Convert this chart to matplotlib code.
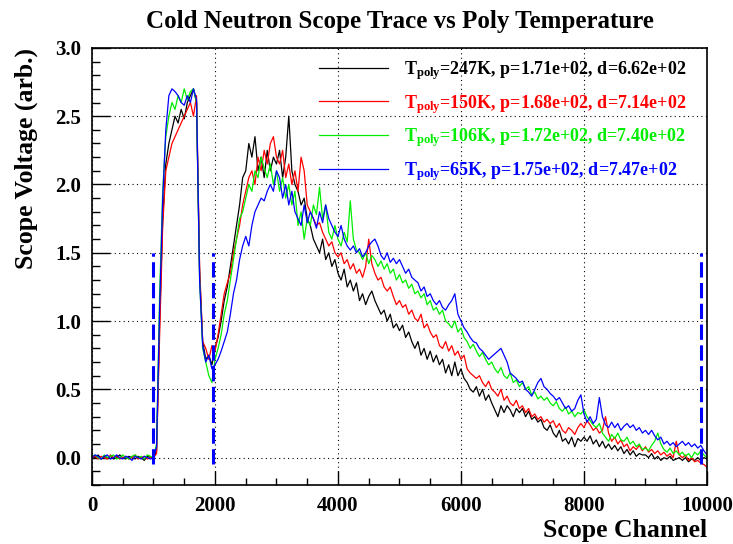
import numpy as np
import matplotlib
matplotlib.use("Agg")
import matplotlib.pyplot as plt
from matplotlib.ticker import MultipleLocator

# Scope traces, one value every 50 channels (0..10000)
step = 50
trace_247K = [
    0.01, 0.0, 0.02, -0.01, 0.01, 0.0, 0.01, -0.01, 0.0, 0.02, 0.0, -0.01, 0.01, 0.0, -0.01, 0.01, 0.0, -0.02, 0.01, 0.0,
    0.0, 0.05, 1.0, 1.75, 2.15, 2.3, 2.4, 2.5, 2.45, 2.55, 2.48, 2.6, 2.65, 2.7, 2.6, 1.35, 0.85, 0.72, 0.75, 0.68,
    0.8, 0.88, 1.0, 1.15, 1.25, 1.4, 1.55, 1.7, 1.85, 2.05, 2.1, 2.3, 2.2, 2.35, 2.1, 2.2, 2.05, 2.25, 2.1, 2.2,
    2.15, 2.25, 2.05, 2.2, 2.5, 2.1, 2.0, 1.95, 1.85, 1.9, 1.75, 1.7, 1.6, 1.55, 1.5, 1.6, 1.45, 1.5, 1.4, 1.45,
    1.35, 1.3, 1.38, 1.25, 1.3, 1.22, 1.28, 1.15, 1.2, 1.12, 1.18, 1.22, 1.15, 1.1, 1.05, 1.08, 1.0, 1.05, 0.95, 0.98,
    0.93, 0.97, 0.88, 0.92, 0.85, 0.8, 0.85, 0.75, 0.8, 0.72, 0.78, 0.7, 0.75, 0.68, 0.72, 0.62, 0.68, 0.6, 0.7, 0.6,
    0.65, 0.58, 0.55, 0.5, 0.48, 0.52, 0.45, 0.5, 0.42, 0.46, 0.4, 0.35, 0.3, 0.38, 0.33, 0.38, 0.35, 0.3, 0.36, 0.33,
    0.36, 0.3, 0.34, 0.28, 0.3, 0.26, 0.28, 0.22, 0.2, 0.24, 0.18, 0.15, 0.2, 0.12, 0.14, 0.1, 0.15, 0.08, 0.14, 0.12,
    0.15, 0.12, 0.16, 0.1, 0.13, 0.08, 0.12, 0.07, 0.1, 0.06, 0.09, 0.05, 0.08, 0.03, 0.06, 0.02, 0.05, 0.01, 0.03, 0.02,
    0.02, 0.0, 0.03, -0.01, 0.01, -0.02, 0.0, -0.01, 0.01, -0.02, -0.01, 0.0, -0.02, 0.0, -0.03, -0.01, -0.02, 0.0, -0.02, 0.0,
    -0.01,
]
trace_150K = [
    0.0, 0.01, -0.01, 0.01, 0.0, -0.01, 0.02, 0.0, 0.01, -0.01, 0.0, 0.01, -0.01, 0.0, 0.02, -0.01, 0.0, 0.01, -0.01, 0.0,
    0.0, 0.03, 0.9, 1.7, 2.1, 2.2, 2.3, 2.35, 2.4, 2.45, 2.5, 2.55, 2.6, 2.5, 2.65, 1.4, 0.85, 0.8, 0.72, 0.82,
    0.78, 0.9, 1.05, 1.2, 1.28, 1.35, 1.5, 1.6, 1.7, 1.85, 1.95, 2.05, 2.1, 2.0, 2.2, 2.1, 2.25, 2.15, 2.3, 2.35,
    2.2, 2.15, 2.25, 2.05, 2.15, 2.0, 2.1, 1.95, 2.2, 2.1, 1.85, 1.8, 1.75, 1.7, 1.72, 1.65, 1.6, 1.55, 1.58, 1.5,
    1.47, 1.5, 1.42, 1.45, 1.38, 1.42, 1.35, 1.38, 1.32, 1.4, 1.6, 1.42, 1.35, 1.3, 1.32, 1.25, 1.22, 1.25, 1.18, 1.12,
    1.15, 1.1, 1.12, 1.05, 1.08, 1.02, 1.0, 1.05, 0.95, 0.98, 0.92, 0.88, 0.9, 0.82, 0.8, 0.85, 0.78, 0.82, 0.75, 0.78,
    0.72, 0.75, 0.65, 0.62, 0.6, 0.58, 0.6, 0.55, 0.52, 0.56, 0.5, 0.48, 0.45, 0.5, 0.42, 0.45, 0.4, 0.38, 0.42, 0.36,
    0.38, 0.33, 0.36, 0.3, 0.32, 0.28, 0.3, 0.26, 0.28, 0.25, 0.27, 0.22, 0.25, 0.2, 0.18, 0.22, 0.2, 0.17, 0.22, 0.25,
    0.22, 0.27, 0.24, 0.2, 0.22, 0.18, 0.2, 0.3, 0.18, 0.12, 0.15, 0.1, 0.13, 0.08, 0.1, 0.05, 0.08, 0.06, 0.09, 0.05,
    0.08, 0.04, 0.06, 0.03, 0.05, 0.02, 0.04, 0.01, 0.03, 0.0, 0.12, 0.02, 0.0, 0.02, -0.02, 0.0, -0.03, -0.02, -0.04, -0.05,
    -0.07,
]
trace_106K = [
    0.01, 0.02, 0.0, -0.01, 0.02, 0.0, 0.01, 0.02, -0.01, 0.0, 0.02, 0.0, -0.01, 0.01, 0.02, 0.0, 0.01, -0.01, 0.02, 0.01,
    0.0, 0.1, 1.2, 1.95, 2.35, 2.5, 2.6, 2.55, 2.65, 2.6, 2.7, 2.62, 2.68, 2.7, 2.6, 1.3, 0.8, 0.7, 0.6, 0.55,
    0.72, 0.8, 0.9, 1.05, 1.15, 1.3, 1.45, 1.6, 1.75, 1.8, 1.9, 2.0, 1.95, 2.1, 2.05, 2.2, 2.12, 2.05, 2.15, 2.0,
    2.1, 1.95, 2.05, 1.9, 2.0, 1.85, 1.95, 1.7, 1.8, 1.6, 1.75, 1.7, 1.85, 1.78, 1.98, 1.75, 1.85, 1.65, 1.6, 1.7,
    1.6, 1.55, 1.65, 1.58, 1.88, 1.6, 1.52, 1.5, 1.45, 1.5, 1.42, 1.48, 1.45, 1.4, 1.44, 1.38, 1.42, 1.35, 1.38, 1.3,
    1.34, 1.28, 1.3, 1.24, 1.27, 1.2, 1.22, 1.17, 1.2, 1.12, 1.15, 1.08, 1.1, 1.05, 1.08, 1.0, 0.98, 0.95, 1.0, 0.92,
    0.95, 0.88, 0.85, 0.8, 0.83, 0.78, 0.74, 0.77, 0.72, 0.68, 0.7, 0.65, 0.62, 0.66, 0.6, 0.58, 0.62, 0.55, 0.57, 0.52,
    0.55, 0.5, 0.52, 0.46, 0.48, 0.43, 0.45, 0.42, 0.44, 0.4, 0.38, 0.41, 0.36, 0.34, 0.37, 0.32, 0.34, 0.3, 0.33, 0.32,
    0.35, 0.3, 0.27, 0.24, 0.22, 0.25, 0.18, 0.15, 0.12, 0.17, 0.14, 0.18, 0.13, 0.12, 0.15, 0.1, 0.12, 0.08, 0.1, 0.06,
    0.07, 0.05, 0.09, 0.12, 0.18, 0.1, 0.06, 0.04, 0.07, 0.03, 0.05, 0.02, 0.04, 0.01, 0.03, 0.0, 0.04, 0.02, 0.05, 0.02,
    0.0,
]
trace_65K = [
    0.0, 0.02, 0.01, -0.01, 0.01, 0.02, -0.01, 0.0, 0.02, 0.0, -0.01, 0.01, 0.0, -0.02, 0.01, 0.0, -0.01, 0.01, 0.0, -0.01,
    0.0, 0.08, 1.1, 1.9, 2.4, 2.65, 2.7, 2.68, 2.65, 2.6, 2.58, 2.65, 2.6, 2.7, 2.62, 1.3, 0.82, 0.7, 0.75, 0.65,
    0.68, 0.72, 0.78, 0.85, 0.92, 1.05, 1.2, 1.3, 1.45, 1.55, 1.62, 1.55, 1.7, 1.8, 1.85, 1.9, 1.88, 1.95, 2.0, 1.95,
    2.1, 2.05, 1.9, 2.0, 1.85, 1.95, 1.8, 1.75, 1.7, 1.85, 1.72, 1.8, 1.75, 1.68, 1.8, 1.72, 1.85, 1.75, 1.7, 1.65,
    1.62, 1.7, 1.6, 1.55, 1.52, 1.55, 1.5, 1.53, 1.47, 1.5, 1.55, 1.58, 1.6, 1.55, 1.48, 1.45, 1.5, 1.43, 1.46, 1.42,
    1.45, 1.4, 1.35, 1.38, 1.32, 1.3, 1.28, 1.22, 1.25, 1.18, 1.2, 1.15, 1.12, 1.15, 1.1, 1.08, 1.12, 1.15, 1.2, 1.05,
    1.0, 0.95, 0.92, 0.88, 0.85, 0.84, 0.8, 0.78, 0.75, 0.72, 0.74, 0.76, 0.78, 0.8, 0.75, 0.7, 0.62, 0.6, 0.58, 0.55,
    0.56, 0.5, 0.48, 0.45, 0.5, 0.55, 0.58, 0.52, 0.5, 0.47, 0.45, 0.42, 0.44, 0.4, 0.36, 0.38, 0.34, 0.36, 0.42, 0.46,
    0.32, 0.26, 0.3, 0.25, 0.28, 0.44, 0.3, 0.24, 0.22, 0.26, 0.22, 0.25, 0.2, 0.23, 0.25, 0.22, 0.24, 0.2, 0.22, 0.18,
    0.2, 0.17, 0.2, 0.16, 0.13, 0.15, 0.1, 0.12, 0.09, 0.11, 0.08, 0.1, 0.12, 0.09, 0.11, 0.08, 0.1, 0.07, 0.09, 0.05,
    0.02,
]

traces = [trace_247K, trace_150K, trace_106K, trace_65K]
colors = ["black", "red", "#00ee00", "blue"]
temps = ["247K", "150K", "106K", "65K"]
p_vals = ["1.71e+02", "1.68e+02", "1.72e+02", "1.75e+02"]
d_vals = ["6.62e+02", "7.14e+02", "7.40e+02", "7.47e+02"]

# dashed markers: channel positions and vertical extent
cut_channels = [1000, 1960, 9900]
cut_low, cut_high = -0.05, 1.5

plt.rcParams["font.family"] = ["Liberation Serif", "DejaVu Serif"]
plt.rcParams["font.weight"] = "bold"
plt.rcParams["mathtext.fontset"] = "custom"
plt.rcParams["mathtext.rm"] = "Liberation Serif:bold"
plt.rcParams["mathtext.bf"] = "Liberation Serif:bold"

fig = plt.figure(figsize=(7.33, 5.44), dpi=100)
ax = fig.add_axes([0.1255, 0.1085, 0.839, 0.8035])

for vals, col, t, p, d in zip(traces, colors, temps, p_vals, d_vals):
    ch = np.arange(len(vals)) * step
    label = r"$\mathbf{T_{poly}}$" + f"={t}, p={p}, d={d}"
    ax.plot(ch, vals, color=col, lw=0.9, label=label)

ax.vlines(cut_channels, cut_low, cut_high, colors="blue", linestyles=(0, (5, 1.8)), lw=2.2)

ax.set_xlim(0, 10000)
ax.set_ylim(-0.2, 3.0)
ax.xaxis.set_major_locator(MultipleLocator(2000))
ax.xaxis.set_minor_locator(MultipleLocator(500))
ax.yaxis.set_major_locator(MultipleLocator(0.5))
ax.yaxis.set_minor_locator(MultipleLocator(0.1))
ax.yaxis.set_major_formatter(matplotlib.ticker.FormatStrFormatter("%.1f"))
ax.grid(True, which="major", color="black", ls=(0, (1, 3)), lw=0.8)
ax.tick_params(axis="both", which="both", direction="in", labelsize=15, width=1)
ax.tick_params(axis="x", which="major", length=10, pad=8)
ax.tick_params(axis="x", which="minor", length=5)
ax.tick_params(axis="y", which="major", length=13, pad=8)
ax.tick_params(axis="y", which="minor", length=6)
for s in ax.spines.values():
    s.set_linewidth(1.2)

ax.set_title("Cold Neutron Scope Trace vs Poly Temperature", fontsize=18, fontweight="bold", pad=14)
ax.set_xlabel("Scope Channel", fontsize=18.5, fontweight="bold", loc="right", labelpad=2)
ax.set_ylabel("Scope Voltage (arb.)", fontsize=18.5, fontweight="bold", loc="top", labelpad=12)

leg = ax.legend(loc="upper right", bbox_to_anchor=(0.993, 1.012), frameon=False, fontsize=13,
                handlelength=3.8, handletextpad=0.9, labelspacing=0.6, labelcolor="linecolor")

fig.savefig("out.png", dpi=100)
